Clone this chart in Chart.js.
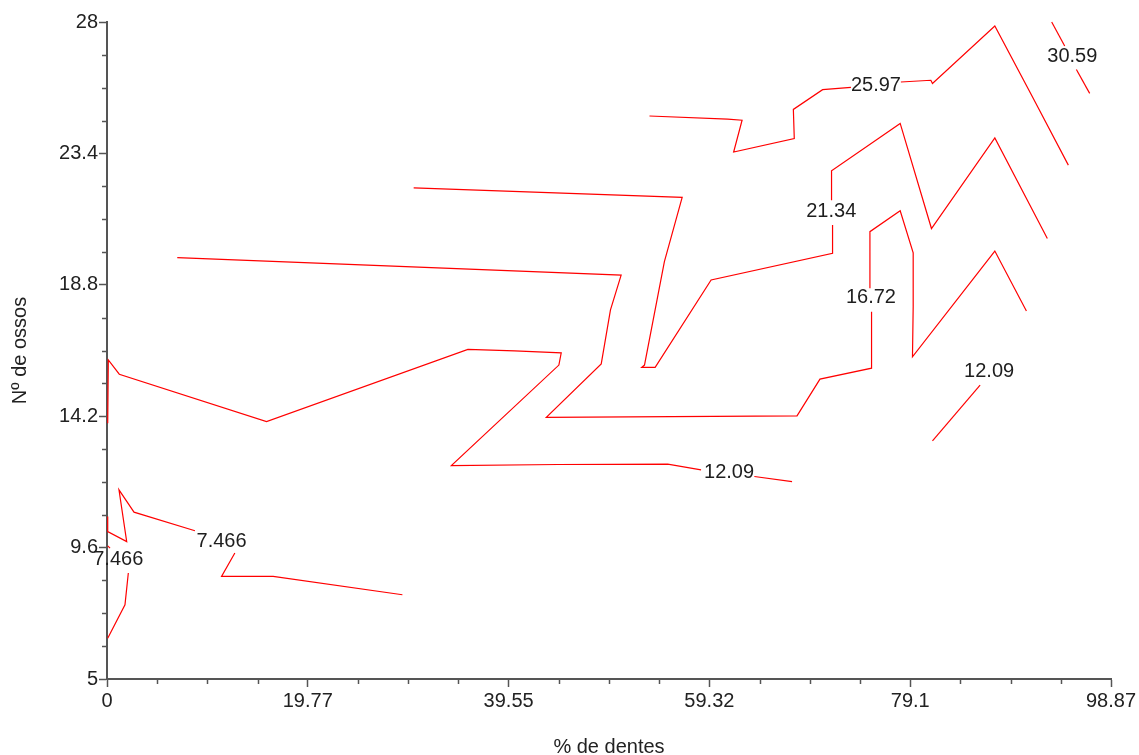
<!DOCTYPE html>
<html><head><meta charset="utf-8">
<script src="https://cdn.jsdelivr.net/npm/chart.js@4"></script>
<style>html,body{margin:0;padding:0;background:#fff;}canvas{display:block;}</style>
</head><body>
<canvas id="c" width="1139" height="755"></canvas>
<script>
// ---- data ----
const xTickLabels = ['0', '19.77', '39.55', '59.32', '79.1', '98.87'];
const yTickLabels = ['5', '9.6', '14.2', '18.8', '23.4', '28'];
const xMin = 0, xMax = 98.87, yMin = 5, yMax = 28;

// each contour level: list of polyline segments (broken where the label sits)
const contour_30_59 = [
  [[93.03, 28.00], [94.31, 27.16]],
  [[95.46, 26.34], [96.77, 25.50]]
];
const contour_25_97 = [
  [[53.42, 24.71], [61.12, 24.60], [62.54, 24.56], [61.71, 23.45], [67.68, 23.92], [67.59, 24.94], [70.47, 25.63], [73.26, 25.71]],
  [[78.18, 25.90], [81.13, 25.96], [81.29, 25.85], [87.43, 27.86], [91.13, 25.38], [94.67, 22.99]]
];
const contour_21_34 = [
  [[30.20, 22.19], [56.64, 21.86], [54.89, 19.61], [52.93, 15.99], [52.66, 15.91], [53.98, 15.91], [59.49, 18.97], [71.45, 19.90], [71.45, 20.89]],
  [[71.35, 21.76], [71.35, 22.79], [78.11, 24.45], [81.19, 20.77], [87.43, 23.94], [92.60, 20.42]]
];
const contour_16_72 = [
  [[6.92, 19.75], [50.63, 19.14], [49.58, 17.92], [48.67, 16.03], [43.26, 14.16], [67.95, 14.21], [70.21, 15.50], [75.29, 15.88], [75.29, 17.86]],
  [[75.13, 18.68], [75.13, 20.66], [78.11, 21.39], [79.39, 19.92], [79.39, 18.03], [79.32, 16.28], [87.43, 19.98], [90.54, 17.88]]
];
const contour_12_09 = [
  [[0.07, 13.95], [0.13, 16.17], [1.21, 15.67], [15.71, 14.01], [35.54, 16.54], [40.14, 16.49], [44.73, 16.42], [44.50, 15.99], [33.91, 12.47], [44.40, 12.51], [55.22, 12.52], [58.50, 12.32]],
  [[63.75, 12.09], [67.46, 11.91]],
  [[85.98, 15.29], [81.29, 13.34]]
];
const contour_7_466 = [
  [[0.07, 10.69], [0.07, 10.16], [1.94, 9.81], [1.18, 11.62], [2.66, 10.84], [8.66, 10.19]],
  [[12.59, 9.41], [11.28, 8.59], [16.36, 8.59], [29.09, 7.95]],
  [[0.07, 9.66], [0.30, 9.58]],
  [[2.10, 8.71], [1.77, 7.60], [0.07, 6.43]]
];

const labelTexts = ['30.59', '25.97', '21.34', '16.72', '12.09', '12.09', '7.466', '7.466'];
const labelX     = [95.06, 75.72, 71.32, 75.23, 61.26, 86.87, 11.28, 1.11];
const labelY     = [26.78, 25.79, 21.38, 18.34, 12.22, 15.76, 9.81, 9.20];

// ---- chart ----
const FONT = "'Liberation Sans', Arial, sans-serif";
const xTickValues = xTickLabels.map(Number);
const yTickValues = yTickLabels.map(Number);
const allContours = [contour_30_59, contour_25_97, contour_21_34, contour_16_72, contour_12_09, contour_7_466];

const datasets = [];
allContours.forEach(c => c.forEach(seg => {
  datasets.push({
    data: seg.map(p => ({x: p[0], y: p[1]})),
    showLine: true, borderColor: '#ff0000', borderWidth: 1.2,
    pointRadius: 0, pointHoverRadius: 0, fill: false, tension: 0, clip: false
  });
}));

const extras = {
  id: 'extras',
  afterDraw(chart) {
    const ctx = chart.ctx, xs = chart.scales.x, ys = chart.scales.y;
    const ca = chart.chartArea;
    ctx.save();
    // minor ticks
    ctx.strokeStyle = '#555'; ctx.lineWidth = 1.5;
    const sub = 4;
    for (let i = 0; i < xTickValues.length - 1; i++) {
      for (let k = 1; k < sub; k++) {
        const v = xTickValues[i] + (xTickValues[i + 1] - xTickValues[i]) * k / sub;
        const px = Math.round(xs.getPixelForValue(v)) + 0.5;
        ctx.beginPath(); ctx.moveTo(px, ca.bottom); ctx.lineTo(px, ca.bottom + 5); ctx.stroke();
      }
    }
    for (let i = 0; i < yTickValues.length - 1; i++) {
      for (let k = 1; k < sub; k++) {
        const v = yTickValues[i] + (yTickValues[i + 1] - yTickValues[i]) * k / sub;
        const py = Math.round(ys.getPixelForValue(v)) + 0.5;
        ctx.beginPath(); ctx.moveTo(ca.left, py); ctx.lineTo(ca.left - 5, py); ctx.stroke();
      }
    }
    // contour labels
    ctx.fillStyle = '#1e1e1e';
    ctx.font = '20px ' + FONT;
    ctx.textAlign = 'center'; ctx.textBaseline = 'middle';
    labelTexts.forEach((t, i) => {
      ctx.fillText(t, xs.getPixelForValue(labelX[i]), ys.getPixelForValue(labelY[i]));
    });
    ctx.restore();
  }
};

new Chart(document.getElementById('c'), {
  type: 'scatter',
  data: { datasets },
  plugins: [extras],
  options: {
    responsive: false, animation: false, devicePixelRatio: 1,
    layout: { padding: { top: 22, right: 28, left: 0, bottom: 0 } },
    plugins: { legend: { display: false }, tooltip: { enabled: false } },
    scales: {
      x: {
        type: 'linear', position: 'bottom', min: xMin, max: xMax,
        afterBuildTicks: s => { s.ticks = xTickValues.map(v => ({ value: v })); },
        afterFit: s => { s.height = 76; },
        ticks: { autoSkip: false, maxRotation: 0, minRotation: 0, padding: 2, color: '#222',
                 font: { size: 20, family: FONT }, callback: (v, i) => xTickLabels[i] },
        grid: { display: true, drawOnChartArea: false, drawTicks: true, tickLength: 8, tickColor: '#555', tickWidth: 1.5 },
        border: { display: true, color: '#555', width: 2 },
        title: { display: true, text: '% de dentes', color: '#222',
                 font: { size: 20, family: FONT, lineHeight: 1 }, padding: { top: 0, bottom: -2.5 } }
      },
      y: {
        type: 'linear', position: 'left', min: yMin, max: yMax,
        afterBuildTicks: s => { s.ticks = yTickValues.map(v => ({ value: v })); },
        afterFit: s => { s.width = 107; },
        ticks: { autoSkip: false, padding: 1, color: '#222',
                 font: { size: 20, family: FONT }, callback: (v, i) => yTickLabels[i] },
        grid: { display: true, drawOnChartArea: false, drawTicks: true, tickLength: 8, tickColor: '#555', tickWidth: 1.5 },
        border: { display: true, color: '#555', width: 2 },
        title: { display: true, text: 'Nº de ossos', color: '#222',
                 font: { size: 20, family: FONT, lineHeight: 1 }, padding: { top: 10, bottom: 0 } }
      }
    }
  }
});
</script>
</body></html>
